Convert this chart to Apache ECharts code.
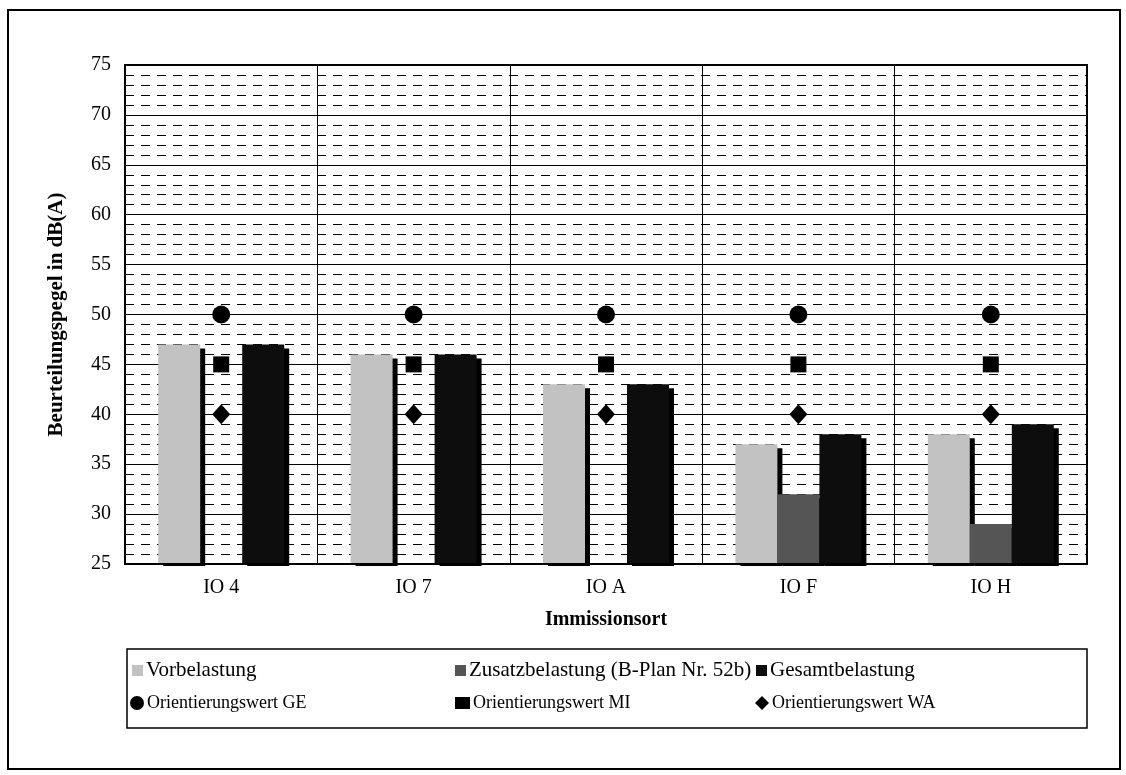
<!DOCTYPE html>
<html>
<head>
<meta charset="utf-8">
<script src="https://cdn.jsdelivr.net/npm/echarts@6/dist/echarts.min.js"></script>
<style>
  html, body { margin: 0; padding: 0; background: #fff; }
  #main { width: 1126px; height: 775px; }
</style>
</head>
<body>
<div id="main"></div>
<script>
// Immissionsorte
const orte = ['IO 4', 'IO 7', 'IO A', 'IO F', 'IO H']
// Beurteilungspegel in dB(A), '-' = unter 25 dB(A), nicht sichtbar
const vorbelastung = [47, 46, 43, 37, 38]
const zusatzbelastung = ['-', '-', '-', 32, 29]
const gesamtbelastung = [47, 46, 43, 38, 39]
// Orientierungswerte
const owGE = [50, 50, 50, 50, 50]
const owMI = [45, 45, 45, 45, 45]
const owWA = [40, 40, 40, 40, 40]

const serif = 'Liberation Serif'
const schatten = { shadowColor: '#000', shadowBlur: 0, shadowOffsetX: 5, shadowOffsetY: 4 }

let myChart = echarts.init(document.getElementById('main'))

// eine Legende pro Eintrag, damit die Spalten wie im Original stehen
function legende(name, icon, left, top, w, h, size) {
  return {
    data: [{ name: name, icon: icon }],
    left: left, top: top,
    itemWidth: w, itemHeight: h, itemGap: 0,
    padding: 0,
    selectedMode: false,
    textStyle: { fontFamily: serif, fontSize: size, color: '#000', padding: [0, 0, 0, -2] }
  }
}

const option = {
  animation: false,
  backgroundColor: '#fff',
  grid: {
    left: 125, right: 39, top: 65, bottom: 211,
    show: true, borderColor: '#000', borderWidth: 2, backgroundColor: 'transparent'
  },
  legend: [
    legende('Vorbelastung', 'rect', 132, 660, 11, 11, 21),
    legende('Zusatzbelastung (B-Plan Nr. 52b)', 'rect', 455, 660, 11, 11, 21),
    legende('Gesamtbelastung', 'rect', 756, 660, 11, 11, 21),
    legende('Orientierungswert GE', 'circle', 130, 694, 14, 14, 18),
    legende('Orientierungswert MI', 'rect', 455, 694, 15, 12, 18),
    legende('Orientierungswert WA', 'diamond', 755, 694, 14, 14, 18)
  ],
  xAxis: {
    type: 'category',
    data: orte,
    name: 'Immissionsort',
    nameLocation: 'middle',
    nameGap: 46,
    nameTextStyle: { fontFamily: serif, fontSize: 20, fontWeight: 'bold', color: '#000' },
    axisLine: { lineStyle: { color: '#000', width: 2 } },
    axisTick: { show: false },
    axisLabel: { fontFamily: serif, fontSize: 20, color: '#000', margin: 14 },
    splitLine: { show: true, interval: 0, lineStyle: { color: '#000', width: 1 } },
    z: 5
  },
  yAxis: {
    type: 'value',
    min: 25, max: 75, interval: 5,
    name: 'Beurteilungspegel in dB(A)',
    nameLocation: 'middle',
    nameGap: 58,
    nameTextStyle: { fontFamily: serif, fontSize: 21, fontWeight: 'bold', color: '#000' },
    axisLine: { show: true, lineStyle: { color: '#000', width: 2 } },
    axisTick: { show: false },
    axisLabel: { fontFamily: serif, fontSize: 20, color: '#000', margin: 14 },
    splitLine: { show: true, lineStyle: { color: '#000', width: 1 } },
    minorTick: { show: false, splitNumber: 5 },
    minorSplitLine: { show: true, lineStyle: { color: '#000', width: 1, type: [9, 7] } }
  },
  series: [
    {
      name: 'Vorbelastung', type: 'bar', data: vorbelastung,
      barWidth: 42, barGap: '0%',
      itemStyle: Object.assign({ color: '#c2c2c2' }, schatten)
    },
    {
      name: 'Zusatzbelastung (B-Plan Nr. 52b)', type: 'bar', data: zusatzbelastung,
      barWidth: 42, barGap: '0%',
      itemStyle: Object.assign({ color: '#555' }, schatten)
    },
    {
      name: 'Gesamtbelastung', type: 'bar', data: gesamtbelastung,
      barWidth: 42, barGap: '0%',
      itemStyle: Object.assign({ color: '#0d0d0d' }, schatten)
    },
    {
      name: 'Orientierungswert GE', type: 'scatter', data: owGE,
      symbol: 'circle', symbolSize: 18, z: 4,
      itemStyle: { color: '#000', opacity: 1 }
    },
    {
      name: 'Orientierungswert MI', type: 'scatter', data: owMI,
      symbol: 'rect', symbolSize: 16, z: 4,
      itemStyle: { color: '#000', opacity: 1 }
    },
    {
      name: 'Orientierungswert WA', type: 'scatter', data: owWA,
      symbol: 'diamond', symbolSize: [18, 20], z: 4,
      itemStyle: { color: '#000', opacity: 1 }
    }
  ],
  graphic: [
    { // Rahmen um das ganze Diagramm
      type: 'rect', silent: true, z: 0,
      shape: { x: 8, y: 10, width: 1112, height: 759 },
      style: { fill: 'none', stroke: '#000', lineWidth: 2 }
    },
    { // Rahmen der Legende
      type: 'rect', silent: true, z: 0,
      shape: { x: 127, y: 649, width: 960, height: 79 },
      style: { fill: 'none', stroke: '#000', lineWidth: 1.5 }
    },
    { // Schatten unter der Achse verdecken
      type: 'rect', silent: true, z: 4,
      shape: { x: 126, y: 566, width: 975, height: 7 },
      style: { fill: '#fff' }
    }
  ]
}
myChart.setOption(option)
</script>
</body>
</html>
